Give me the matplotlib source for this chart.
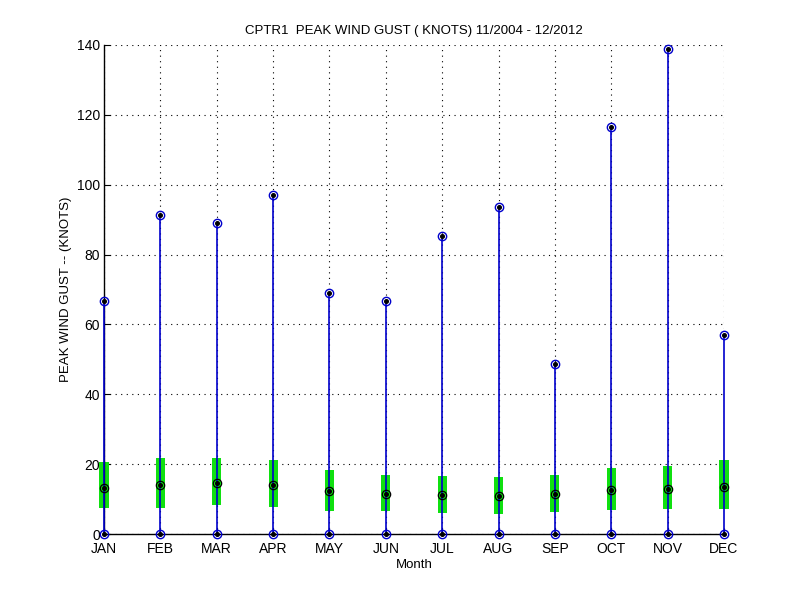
import matplotlib
matplotlib.use("Agg")
import matplotlib.pyplot as plt
import numpy as np

plt.rcParams['font.family'] = ['Liberation Sans', 'DejaVu Sans']

months = ["JAN", "FEB", "MAR", "APR", "MAY", "JUN", "JUL", "AUG", "SEP", "OCT", "NOV", "DEC"]
gust_max = [66.6, 91.2, 88.9, 97.0, 68.9, 66.6, 85.3, 93.5, 48.7, 116.4, 138.8, 57.0]
gust_min = [0, 0, 0, 0, 0, 0, 0, 0, 0, 0, 0, 0]
gust_mean = [13.1, 14.0, 14.6, 14.0, 12.3, 11.4, 11.1, 11.0, 11.4, 12.6, 12.8, 13.4]
box_top = [20.6, 21.8, 21.8, 21.2, 18.3, 16.9, 16.6, 16.3, 16.9, 18.9, 19.5, 21.2]
box_bottom = [7.5, 7.5, 8.4, 7.8, 6.7, 6.7, 6.1, 5.8, 6.4, 7.0, 7.3, 7.3]
yticks = [0, 20, 40, 60, 80, 100, 120, 140]

x = np.arange(1, len(months) + 1)

fig = plt.figure(figsize=(8, 6), dpi=100)
ax = fig.add_axes([0.13, 0.11, 0.775, 0.815])

# green inter-quantile boxes
bars = ax.bar(x, np.array(box_top) - np.array(box_bottom), bottom=box_bottom,
              width=0.16, color='#10e010', edgecolor='none', zorder=2)
for b in bars:
    b.set_clip_on(False)

# blue whiskers min -> max
ax.vlines(x, gust_min, gust_max, colors='#0000cc', linewidth=1.2, zorder=3, clip_on=False)

# max / min markers: blue circles with black dot
for vals in (gust_max, gust_min):
    ax.plot(x, vals, 'o', markerfacecolor='none', markeredgecolor='#0000cc',
            markersize=6, markeredgewidth=1.0, linestyle='none', zorder=7, clip_on=False)
    ax.plot(x, vals, 'o', color='black', markersize=2.6, linestyle='none', zorder=8, clip_on=False)

# mean markers: black circle with black dot
ax.plot(x, gust_mean, 'o', markerfacecolor='none', markeredgecolor='black',
        markersize=6, markeredgewidth=0.9, linestyle='none', zorder=7, clip_on=False)
ax.plot(x, gust_mean, 'o', color='black', markersize=2.6, linestyle='none', zorder=8, clip_on=False)

ax.set_xlim(1, 12)
ax.set_ylim(0, 140)
ax.set_xticks(x)
ax.set_xticklabels(months)
ax.set_yticks(yticks)
ax.tick_params(direction='in', length=4, width=0.8, labelsize=10, colors='black')
ax.tick_params(axis='x', pad=6)
ax.tick_params(axis='y', pad=3)

ax.grid(True, linestyle=(0, (1, 4)), color='black', linewidth=0.8)
ax.set_axisbelow(True)
for s in ('top', 'right'):
    ax.spines[s].set_visible(False)
for s in ('left', 'bottom'):
    ax.spines[s].set_linewidth(1.0)
    ax.spines[s].set_zorder(2.5)

ax.set_title("CPTR1  PEAK WIND GUST ( KNOTS) 11/2004 - 12/2012", fontsize=9.5, pad=8)
ax.set_xlabel("Month", fontsize=9.5, labelpad=2)
ax.set_ylabel("PEAK WIND GUST -- (KNOTS)", fontsize=9.5, labelpad=3)

fig.savefig("out.png", dpi=100, facecolor='white')
